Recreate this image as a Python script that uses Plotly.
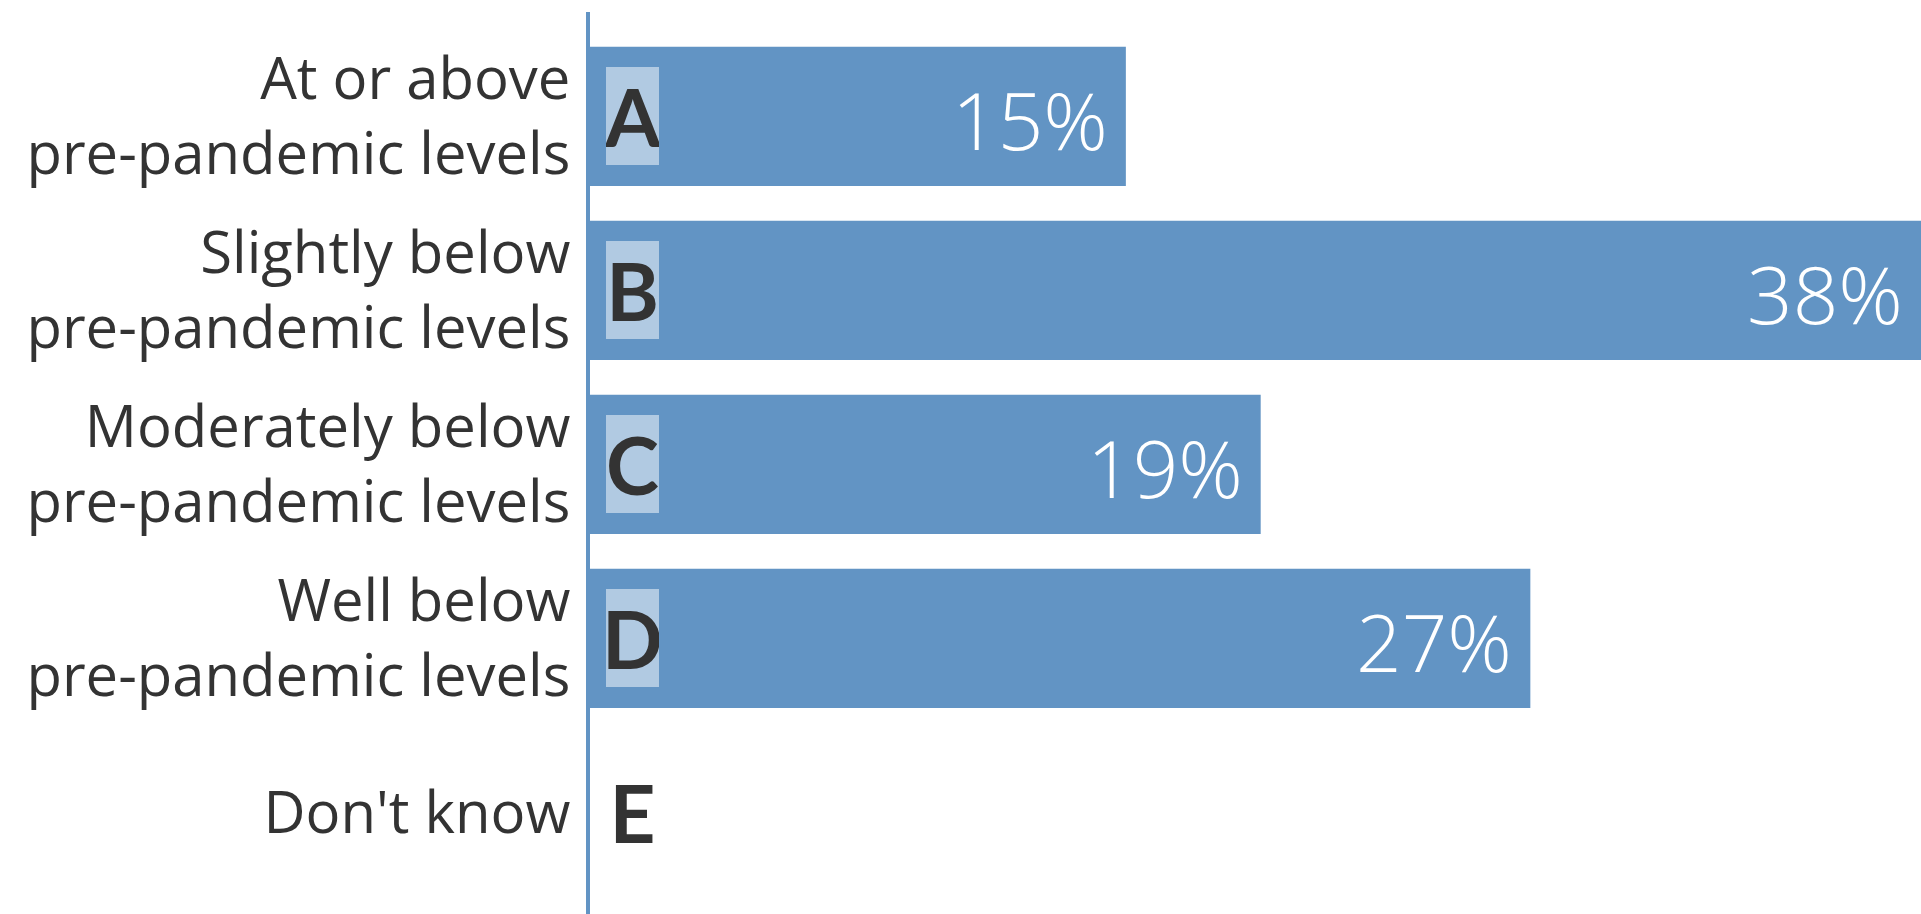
import plotly.graph_objects as go

categories = ["At or above<br>pre-pandemic levels",
              "Slightly below<br>pre-pandemic levels",
              "Moderately below<br>pre-pandemic levels",
              "Well below<br>pre-pandemic levels",
              "Don't know"]
letters = ["A", "B", "C", "D", "E"]
values = [15.5, 38.5, 19.4, 27.2, 0.0]
value_labels = ["15%", "38%", "19%", "27%", ""]

BAR = "#6294C4"
TXT = "#333333"

fig = go.Figure()
fig.add_trace(go.Bar(
    y=categories, x=values, orientation="h",
    marker=dict(color=BAR, line=dict(width=0)),
    hoverinfo="skip", showlegend=False,
))

annotations = []
for cat, let in zip(categories, letters):
    annotations.append(dict(
        x=0, y=cat, xref="x", yref="y", text=let, showarrow=False,
        xanchor="left", yanchor="middle", xshift=16,
        width=53, height=98, borderpad=0, borderwidth=0,
        bgcolor="rgba(255,255,255,0.5)",
        font=dict(family="Lato", size=80, color=TXT, weight="bold"),
    ))
for cat, v, lab in zip(categories, values, value_labels):
    if lab:
        annotations.append(dict(
            x=v, y=cat, xref="x", yref="y", text=lab, showarrow=False,
            xanchor="right", yanchor="middle", xshift=-16, yshift=-2,
            font=dict(family="Open Sans", size=80, color="white", weight=300),
        ))

fig.update_layout(
    width=1921, height=914,
    margin=dict(l=590, r=0, t=12, b=0, pad=0),
    paper_bgcolor="white", plot_bgcolor="white",
    bargap=0.2,
    xaxis=dict(range=[0, 38.5], visible=False, fixedrange=True),
    yaxis=dict(
        categoryorder="array", categoryarray=categories,
        range=[4.584, -0.6],
        showline=True, linecolor=BAR, linewidth=4,
        showgrid=False, zeroline=False, ticks="",
        ticklabelstandoff=4,
        tickfont=dict(family="Open Sans", size=58, color=TXT),
    ),
    annotations=annotations,
)

fig.write_html("out.html")
